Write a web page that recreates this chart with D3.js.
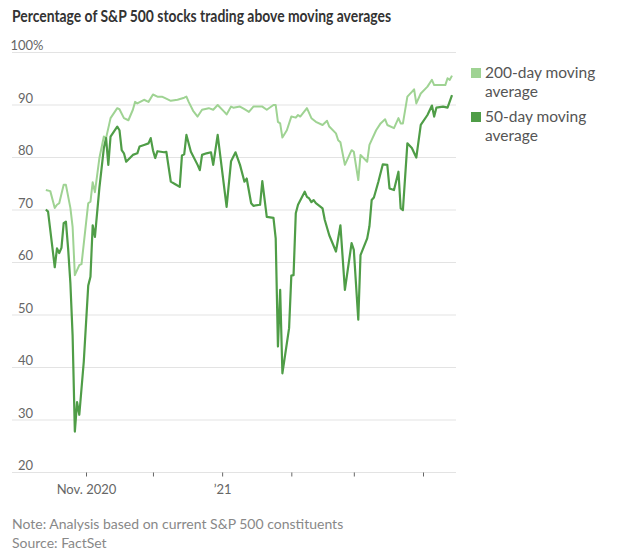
<!DOCTYPE html>
<html><head><meta charset="utf-8">
<script src="https://cdn.jsdelivr.net/npm/d3@7"></script>
<style>
html,body{margin:0;padding:0;background:#fff;}
svg text{font-family:Lato,"Noto Sans",sans-serif;}
</style></head>
<body>
<svg id="chart" width="620" height="551"></svg>
<script>
const dates50 = ["2020-10-14","2020-10-15","2020-10-18","2020-10-19","2020-10-20","2020-10-21","2020-10-22","2020-10-23","2020-10-24","2020-10-25","2020-10-26","2020-10-27","2020-10-28","2020-10-29","2020-10-31","2020-11-02","2020-11-03","2020-11-04","2020-11-05","2020-11-07","2020-11-09","2020-11-10","2020-11-11","2020-11-12","2020-11-15","2020-11-16","2020-11-17","2020-11-18","2020-11-19","2020-11-22","2020-11-24","2020-11-25","2020-11-27","2020-11-29","2020-11-30","2020-12-01","2020-12-02","2020-12-03","2020-12-06","2020-12-07","2020-12-09","2020-12-11","2020-12-13","2020-12-14","2020-12-15","2020-12-16","2020-12-18","2020-12-21","2020-12-22","2020-12-23","2020-12-25","2020-12-27","2020-12-28","2020-12-30","2021-01-03","2021-01-05","2021-01-07","2021-01-09","2021-01-11","2021-01-12","2021-01-14","2021-01-15","2021-01-18","2021-01-19","2021-01-21","2021-01-24","2021-01-25","2021-01-26","2021-01-27","2021-01-28","2021-01-31","2021-02-01","2021-02-02","2021-02-03","2021-02-04","2021-02-07","2021-02-08","2021-02-09","2021-02-10","2021-02-11","2021-02-12","2021-02-15","2021-02-16","2021-02-18","2021-02-21","2021-02-23","2021-02-25","2021-02-28","2021-03-01","2021-03-03","2021-03-04","2021-03-07","2021-03-08","2021-03-09","2021-03-10","2021-03-12","2021-03-14","2021-03-16","2021-03-17","2021-03-19","2021-03-21","2021-03-22","2021-03-23","2021-03-25","2021-03-27","2021-03-29","2021-03-31","2021-04-03","2021-04-05","2021-04-06","2021-04-07","2021-04-10","2021-04-12","2021-04-14"];
const values50 = [70,69.6,59,62.6,61.7,62.7,67.4,67.7,62.5,56,46,27.7,33.3,30.9,41,55.5,57.2,67,64.8,74.1,81.7,83.6,78.5,83.9,85.8,85.1,81.3,80.7,79.1,80.4,80.7,82,82.3,82.6,83.6,81.3,79.8,81.1,80.9,81,75.3,74.8,74.3,80.3,80.5,84.2,81,78.5,77.5,80.4,80.7,80.9,78.5,84.2,70.5,79.2,80.9,78.5,75.3,75.9,71.2,70.7,70.9,75.4,68.6,68.4,64.5,43.9,54.7,38.8,47.4,57.4,57.5,69.3,70.9,73.4,72.4,72.1,71.4,71.8,71.2,70.2,68,65.1,62,67,54.7,63.6,62.3,49,61.3,64.5,66.8,71.8,72.3,75.3,78.6,78.5,74,73.7,77.2,70.2,69.9,82.6,81.7,79.9,86.1,88,89.8,87.7,89.4,89.6,89.4,91.8];

const dates200 = ["2020-10-14","2020-10-16","2020-10-18","2020-10-19","2020-10-20","2020-10-22","2020-10-23","2020-10-25","2020-10-26","2020-10-27","2020-10-29","2020-10-30","2020-11-02","2020-11-03","2020-11-04","2020-11-05","2020-11-07","2020-11-09","2020-11-10","2020-11-12","2020-11-15","2020-11-16","2020-11-18","2020-11-20","2020-11-22","2020-11-23","2020-11-24","2020-11-27","2020-11-29","2020-12-01","2020-12-03","2020-12-05","2020-12-06","2020-12-09","2020-12-12","2020-12-15","2020-12-16","2020-12-17","2020-12-19","2020-12-21","2020-12-23","2020-12-26","2020-12-28","2020-12-30","2021-01-02","2021-01-03","2021-01-05","2021-01-06","2021-01-09","2021-01-11","2021-01-13","2021-01-15","2021-01-19","2021-01-21","2021-01-24","2021-01-25","2021-01-26","2021-01-27","2021-01-28","2021-01-30","2021-02-01","2021-02-03","2021-02-04","2021-02-05","2021-02-08","2021-02-10","2021-02-12","2021-02-15","2021-02-17","2021-02-18","2021-02-21","2021-02-22","2021-02-23","2021-02-25","2021-02-28","2021-03-01","2021-03-03","2021-03-04","2021-03-07","2021-03-08","2021-03-11","2021-03-13","2021-03-15","2021-03-16","2021-03-19","2021-03-21","2021-03-22","2021-03-23","2021-03-25","2021-03-27","2021-03-28","2021-03-29","2021-03-31","2021-04-03","2021-04-05","2021-04-06","2021-04-09","2021-04-11","2021-04-12","2021-04-13","2021-04-14"];
const values200 = [73.7,73.5,70.3,70.9,71.2,74.7,74.7,70.3,66.7,57.5,59.4,59.6,71.2,71.5,75.2,73.3,79.8,83.9,83.6,87.4,89.3,89.1,87.4,87,89,90.5,90.2,90.9,90.5,91.9,91.5,91.5,91.3,90.7,90.9,91.3,91.5,90.5,88.8,87.7,89,89.3,89,89.9,88.6,88.1,89.6,89.4,89.6,89.1,88.6,89.6,89.6,89,89.9,89.9,86.7,86.4,83.7,85.1,87.7,87.5,88,87.7,89.3,87.4,86.7,86.1,86.9,85.8,84.5,83.2,82.8,78.5,81.3,81,75.6,80.4,79.1,82.3,85.1,86.4,87.2,86.1,85.5,87.4,86.4,86.4,91.5,92.4,92.9,90.2,92.1,93.4,94.7,93.7,93.7,93.7,95,94.7,95.5];

const yTicks = [20,30,40,50,60,70,80,90,100];
const xTickDates = ["2020-11-01","2020-12-01","2021-01-01","2021-02-01","2021-03-01","2021-04-01"];
const xTickLabels = {"2020-11-01":"Nov. 2020","2021-01-01":"\u201921"};
const legendLines = [["200-day moving","average"],["50-day moving","average"]];
const titleText = "Percentage of S&P 500 stocks trading above moving averages";
const noteText = "Note: Analysis based on current S&P 500 constituents";
const sourceText = "Source: FactSet";

const parse = d3.timeParse("%Y-%m-%d");
const COL_LIGHT = "#9fd393", COL_DARK = "#4f9d47";

const svg = d3.select("#chart");
const x = d3.scaleTime().domain([parse("2020-11-01"), parse("2021-04-01")]).range([86, 423]);
const y = d3.scaleLinear().domain([20, 100]).range([472, 52]);
const gridX0 = 12, gridX1 = 456;

// title
const title = svg.append("text").attr("x", 12).attr("y", 22)
  .attr("font-size", 17).attr("font-weight", 700).attr("fill", "#333").text(titleText);
const tw = title.node().getComputedTextLength();
if (tw > 379) title.attr("textLength", 379).attr("lengthAdjust", "spacingAndGlyphs");

// grid
const grid = svg.append("g");
grid.selectAll("line").data(yTicks).join("line")
  .attr("x1", gridX0).attr("x2", gridX1)
  .attr("y1", d => y(d) + 0.5).attr("y2", d => y(d) + 0.5)
  .attr("stroke", "#e3e3e3").attr("stroke-width", 1);
grid.selectAll("text").data(yTicks).join("text")
  .attr("x", 33).attr("y", d => y(d) - 2)
  .attr("text-anchor", "end").attr("font-size", 13).attr("fill", "#666")
  .text(d => d);
svg.append("text").attr("x", 33).attr("y", y(100) - 2)
  .attr("font-size", 13).attr("fill", "#666").text("%");

// x axis
const xAxis = d3.axisBottom(x)
  .tickValues(xTickDates.map(parse))
  .tickSize(4)
  .tickFormat(d => xTickLabels[d3.timeFormat("%Y-%m-%d")(d)] || "");
const gx = svg.append("g").attr("transform", `translate(0,${y(20) + 0.5})`).call(xAxis);
gx.select(".domain").remove();
gx.selectAll(".tick line").attr("stroke", "#666");
gx.selectAll(".tick text").attr("font-family", "Lato,'Noto Sans',sans-serif")
  .attr("font-size", 13).attr("fill", "#666").attr("dy", "1.1em");

// lines
const line = d3.line().x(d => x(d[0])).y(d => y(d[1])).curve(d3.curveLinear);
const d200 = dates200.map((d, i) => [parse(d), values200[i]]);
const d50 = dates50.map((d, i) => [parse(d), values50[i]]);
svg.append("path").datum(d200).attr("d", line).attr("fill", "none")
  .attr("stroke", COL_LIGHT).attr("stroke-width", 2).attr("stroke-linejoin", "round");
svg.append("path").datum(d50).attr("d", line).attr("fill", "none")
  .attr("stroke", COL_DARK).attr("stroke-width", 2.2).attr("stroke-linejoin", "round");

// legend
const legend = [
  {lines: legendLines[0], color: COL_LIGHT, y: 68},
  {lines: legendLines[1], color: COL_DARK, y: 112}
];
legend.forEach(l => {
  svg.append("rect").attr("x", 471).attr("y", l.y).attr("width", 10).attr("height", 10).attr("fill", l.color);
  l.lines.forEach((s, i) => {
    svg.append("text").attr("x", 485).attr("y", l.y + 10 + i * 18.5)
      .attr("font-size", 15.5).attr("fill", "#555").text(s);
  });
});

// notes
svg.append("text").attr("x", 12).attr("y", 529).attr("font-size", 14).attr("fill", "#888").text(noteText);
svg.append("text").attr("x", 12).attr("y", 548).attr("font-size", 14).attr("fill", "#888").text(sourceText);
</script>
</body></html>
